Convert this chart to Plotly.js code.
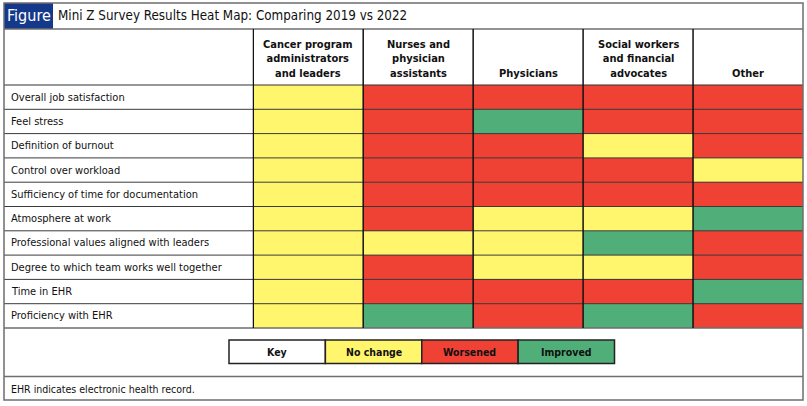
<!DOCTYPE html>
<html>
<head>
<meta charset="utf-8">
<script src="https://cdn.plot.ly/plotly-3.0.1.min.js"></script>
<style>html,body{margin:0;padding:0;background:#fff;}#chart{width:807px;height:406px;}</style>
</head>
<body>
<div id="chart"></div>
<script>
// ---- data ----
const figureTag = 'Figure';
const titleText = 'Mini Z Survey Results Heat Map: Comparing 2019 vs 2022';
const footnote = 'EHR indicates electronic health record.';
const columns = ['Cancer program administrators and leaders', 'Nurses and physician assistants', 'Physicians', 'Social workers and financial advocates', 'Other'];
const columnHeaders = ['Cancer program<br>administrators<br>and leaders', 'Nurses and<br>physician<br>assistants', 'Physicians', 'Social workers<br>and financial<br>advocates', 'Other'];
const measures = ['Overall job satisfaction', 'Feel stress', 'Definition of burnout', 'Control over workload', 'Sufficiency of time for documentation', 'Atmosphere at work', 'Professional values aligned with leaders', 'Degree to which team works well together', 'Time in EHR', 'Proficiency with EHR'];
const statusLabels = ['No change', 'Worsened', 'Improved'];
const keyLabels = ['Key', 'No change', 'Worsened', 'Improved'];
const cancerAdmins = ['No change','No change','No change','No change','No change','No change','No change','No change','No change','No change'];
const nursesPAs = ['Worsened','Worsened','Worsened','Worsened','Worsened','Worsened','No change','Worsened','Worsened','Improved'];
const physicians = ['Worsened','Improved','Worsened','Worsened','Worsened','No change','No change','No change','Worsened','Worsened'];
const socialWorkers = ['Worsened','Worsened','No change','Worsened','Worsened','No change','Improved','No change','Worsened','Improved'];
const other = ['Worsened','Worsened','Worsened','No change','Worsened','Improved','Worsened','Worsened','Improved','Worsened'];

// ---- styling ----
const FONT = '"DejaVu Sans Condensed", "Liberation Sans Narrow", sans-serif';
const W = 807, H = 406;
const px = v => v / W;
const py = v => (H - v) / H;
const statusColors = {'No change': '#FFF66E', 'Worsened': '#F04234', 'Improved': '#50AF78'};
const navy = '#14398A';
const frameGray = '#6E6E6E';

const seriesByColumn = [cancerAdmins, nursesPAs, physicians, socialWorkers, other];
const z = measures.map((m, i) => seriesByColumn.map(s => statusLabels.indexOf(s[i])));

const trace = {
  type: 'heatmap',
  x: columns,
  y: measures,
  z: z,
  zmin: 0, zmax: 2,
  colorscale: [[0, statusColors['No change']], [0.25, statusColors['No change']], [0.25, statusColors['Worsened']], [0.75, statusColors['Worsened']], [0.75, statusColors['Improved']], [1, statusColors['Improved']]],
  showscale: false,
  hoverinfo: 'skip',
  xgap: 0, ygap: 0
};

const gridTop = 85, gridBottom = 328, headTop = 29, keyBottom = 376.5;
const shapes = [];
shapes.push({type: 'rect', xref: 'paper', yref: 'paper', x0: px(4), x1: px(53), y0: py(29), y1: py(3), fillcolor: navy, line: {width: 0}});
shapes.push({type: 'line', xref: 'paper', yref: 'paper', x0: px(4), x1: px(803), y0: py(headTop), y1: py(headTop), line: {color: frameGray, width: 1.5}});
shapes.push({type: 'line', xref: 'paper', yref: 'paper', x0: px(4), x1: px(803), y0: py(gridTop), y1: py(gridTop), line: {color: '#333', width: 1.2}});
for (let i = 0; i < measures.length - 1; i++) {
  shapes.push({type: 'line', xref: 'paper', yref: 'y', x0: px(4), x1: px(803), y0: i + 0.5, y1: i + 0.5, line: {color: '#3a3a3a', width: 1}});
}
shapes.push({type: 'line', xref: 'paper', yref: 'paper', x0: px(4), x1: px(803), y0: py(gridBottom), y1: py(gridBottom), line: {color: frameGray, width: 1.5}});
for (let j = 0; j < columns.length; j++) {
  shapes.push({type: 'line', xref: 'x', yref: 'paper', x0: j - 0.5, x1: j - 0.5, y0: py(gridBottom), y1: py(headTop), line: {color: '#111', width: 1.5}});
}
shapes.push({type: 'line', xref: 'paper', yref: 'paper', x0: px(4), x1: px(803), y0: py(keyBottom), y1: py(keyBottom), line: {color: frameGray, width: 1.5}});
shapes.push({type: 'rect', xref: 'paper', yref: 'paper', x0: px(4), x1: px(803), y0: py(400), y1: py(3), line: {color: frameGray, width: 1.5}});

const annotations = [];
annotations.push({xref: 'paper', yref: 'paper', x: px(28.5), y: py(16), text: figureTag, showarrow: false, xanchor: 'center', yanchor: 'middle', font: {family: FONT, size: 16, color: '#fff'}});
annotations.push({xref: 'paper', yref: 'paper', x: px(56), y: py(16), text: titleText, showarrow: false, xanchor: 'left', yanchor: 'middle', font: {family: FONT, size: 13.3, color: '#111'}});
columns.forEach((c, j) => {
  annotations.push({xref: 'x', yref: 'paper', x: c, y: py(82), text: '<b>' + columnHeaders[j] + '</b>', showarrow: false, xanchor: 'center', yanchor: 'bottom', align: 'center', font: {family: FONT, size: 11, color: '#111'}});
});
measures.forEach(m => {
  annotations.push({xref: 'paper', yref: 'y', x: px(9), y: m, text: m, showarrow: false, xanchor: 'left', yanchor: 'middle', font: {family: FONT, size: 11, color: '#111'}});
});
const keyX0 = 229, keyX1 = 614.5, keyY0 = 340, keyY1 = 363.5;
const keyW = (keyX1 - keyX0) / keyLabels.length;
keyLabels.forEach((k, i) => {
  shapes.push({type: 'rect', xref: 'paper', yref: 'paper', x0: px(keyX0 + i * keyW), x1: px(keyX0 + (i + 1) * keyW), y0: py(keyY1), y1: py(keyY0), fillcolor: statusColors[k] || '#fff', line: {color: '#222', width: 1.5}});
  annotations.push({xref: 'paper', yref: 'paper', x: px(keyX0 + (i + 0.5) * keyW), y: py((keyY0 + keyY1) / 2), text: '<b>' + k + '</b>', showarrow: false, xanchor: 'center', yanchor: 'middle', font: {family: FONT, size: 10.5, color: '#111'}});
});
annotations.push({xref: 'paper', yref: 'paper', x: px(9), y: py(388.5), text: footnote, showarrow: false, xanchor: 'left', yanchor: 'middle', font: {family: FONT, size: 10.5, color: '#111'}});

const layout = {
  width: W, height: H,
  margin: {l: 0, r: 0, t: 0, b: 0, pad: 0},
  paper_bgcolor: '#fff', plot_bgcolor: '#fff',
  showlegend: false,
  xaxis: {domain: [px(252.5), px(803)], type: 'category', categoryarray: columns, showticklabels: false, showgrid: false, zeroline: false, ticks: '', fixedrange: true},
  yaxis: {domain: [py(gridBottom), py(gridTop)], type: 'category', categoryarray: measures, autorange: 'reversed', showticklabels: false, showgrid: false, zeroline: false, ticks: '', fixedrange: true},
  shapes: shapes,
  annotations: annotations
};

Plotly.newPlot('chart', [trace], layout, {displayModeBar: false, staticPlot: true});
</script>
</body>
</html>
